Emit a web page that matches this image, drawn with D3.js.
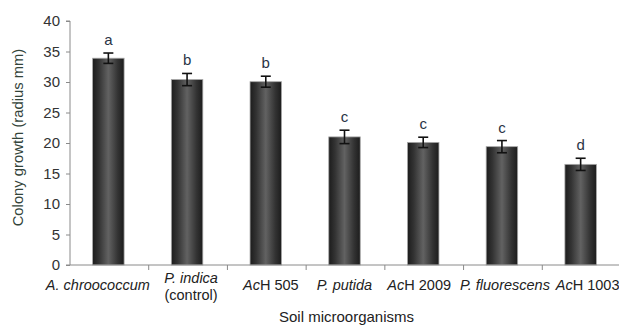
<!DOCTYPE html>
<html><head><meta charset="utf-8">
<script src="https://cdn.jsdelivr.net/npm/d3@7"></script>
<style>body{margin:0;background:#fff}svg{display:block;font-family:"Liberation Sans",Arial,sans-serif}</style>
</head><body><svg id="c" width="619" height="325"></svg>
<script>
const categories = [["A. chroococcum"],["P. indica","(control)"],["AcH 505"],["P. putida"],["AcH 2009"],["P. fluorescens"],["AcH 1003"]];
const values = [33.9, 30.4, 30.05, 21.0, 20.1, 19.4, 16.5];
const errors = [0.85, 1.0, 0.9, 1.1, 0.85, 1.0, 1.0];
const letters = ["a","b","b","c","c","c","d"];
const yTicks = [0,5,10,15,20,25,30,35,40];

const svg = d3.select("#c");
const x = d3.scaleBand().domain(d3.range(values.length)).range([69,620]).paddingInner(0.6).paddingOuter(0.3);
const y = d3.scaleLinear().domain([0,40]).range([265,21]);
const axisX = 70;
// horizontal label nudges (layout only, to avoid overlap like the original)
const labelNudge = [-10.5, 4, 5, 0, -4, 3, 7];

const defs = svg.append("defs");
const g = defs.append("linearGradient").attr("id","bg").attr("x1","0").attr("x2","1").attr("y1","0").attr("y2","0");
[[0,"#1c1c1c"],[0.2,"#333"],[0.5,"#626262"],[0.8,"#333"],[1,"#1c1c1c"]].forEach(([o,c])=>g.append("stop").attr("offset",o).attr("stop-color",c));

// bars
svg.selectAll("rect.bar").data(values).join("rect").attr("class","bar")
  .attr("x",(d,i)=>x(i)).attr("width",x.bandwidth())
  .attr("y",d=>y(d)).attr("height",d=>y(0)-y(d))
  .attr("fill","url(#bg)").attr("stroke","#a8a8a8").attr("stroke-width",0.8);

// error bars
const eb = svg.selectAll("g.err").data(values).join("g").attr("class","err")
  .attr("stroke","#111").attr("stroke-width",1.6);
eb.append("line").attr("x1",(d,i)=>x(i)+x.bandwidth()/2).attr("x2",(d,i)=>x(i)+x.bandwidth()/2)
  .attr("y1",(d,i)=>y(d+errors[i])).attr("y2",(d,i)=>y(d-errors[i]));
eb.append("line").attr("x1",(d,i)=>x(i)+x.bandwidth()/2-5).attr("x2",(d,i)=>x(i)+x.bandwidth()/2+5)
  .attr("y1",(d,i)=>y(d+errors[i])).attr("y2",(d,i)=>y(d+errors[i]));
eb.append("line").attr("x1",(d,i)=>x(i)+x.bandwidth()/2-5).attr("x2",(d,i)=>x(i)+x.bandwidth()/2+5)
  .attr("y1",(d,i)=>y(d-errors[i])).attr("y2",(d,i)=>y(d-errors[i]));

// letters
svg.selectAll("text.lt").data(letters).join("text").attr("class","lt")
  .attr("x",(d,i)=>x(i)+x.bandwidth()/2).attr("y",(d,i)=>y(values[i]+errors[i])-8)
  .attr("text-anchor","middle").attr("font-size",15).attr("fill","#2a3446").text(d=>d);

// y axis
const ya = svg.append("g").attr("transform",`translate(${axisX},0)`)
  .call(d3.axisLeft(y).tickValues(yTicks).tickSize(4).tickPadding(6));
ya.select(".domain").attr("stroke","#8a8a8a").attr("d",`M-4,${y(40)}H0V${y(0)}`);
ya.selectAll(".tick line").attr("stroke","#8a8a8a");
ya.selectAll(".tick text").attr("font-size",15).attr("fill","#333").attr("font-family","Liberation Sans, Arial, sans-serif");

// x axis
svg.append("line").attr("x1",66).attr("x2",620).attr("y1",y(0)).attr("y2",y(0)).attr("stroke","#8a8a8a");
const bounds = d3.range(1,values.length).map(i=>x(i)-x.step()*x.paddingInner()/2);
svg.selectAll("line.xt").data(bounds).join("line").attr("class","xt")
  .attr("x1",d=>d+1).attr("x2",d=>d+1).attr("y1",y(0)).attr("y2",y(0)+5).attr("stroke","#8a8a8a");

// category labels
const cl = svg.selectAll("text.cat").data(categories).join("text").attr("class","cat")
  .attr("text-anchor","middle").attr("font-size",14.5).attr("fill","#222")
  .attr("y",d=>d.length>1?283:290);
cl.each(function(d,i){
  const t = d3.select(this);
  const cx = x(i)+x.bandwidth()/2+labelNudge[i];
  t.attr("x",cx);
  d.forEach((line,j)=>{
    const ts = t.append("tspan").attr("x",cx).attr("dy",j===0?0:17);
    const m = line.match(/^AcH (.*)$/);
    if(m){
      ts.append("tspan").attr("font-style","italic").text("Ac");
      ts.append("tspan").text("H "+m[1]);
    } else if(line.startsWith("(")){
      ts.text(line);
    } else {
      ts.attr("font-style","italic").text(line);
    }
  });
});

// titles
svg.append("text").attr("x",346.5).attr("y",321.5).attr("text-anchor","middle").attr("font-size",15).attr("fill","#222").text("Soil microorganisms");
svg.append("text").attr("transform","translate(23,137.5) rotate(-90)").attr("text-anchor","middle").attr("font-size",14.8).attr("fill","#33443a").text("Colony growth (radius mm)");
</script></body></html>
